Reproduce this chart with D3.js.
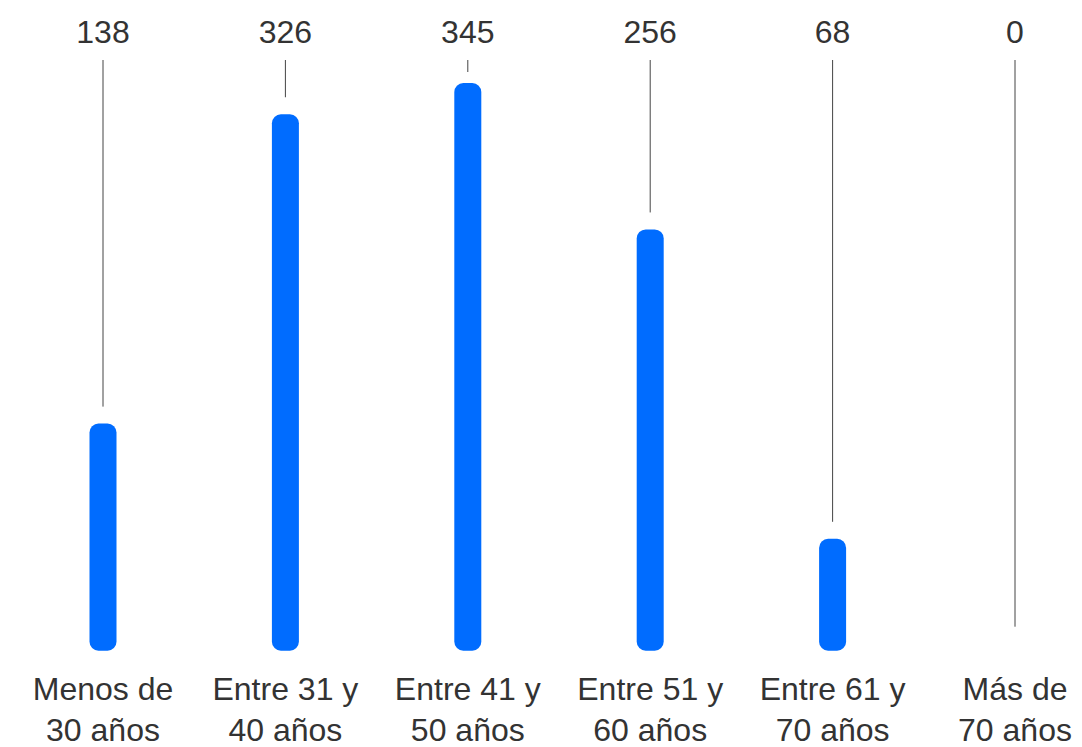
<!DOCTYPE html>
<html>
<head>
<meta charset="utf-8">
<script src="https://cdn.jsdelivr.net/npm/d3@7"></script>
<style>
  html, body { margin: 0; padding: 0; background: #fff; }
  svg { display: block; }
</style>
</head>
<body>
<svg id="chart" width="1082" height="747"></svg>
<script>
// Age groups (two text lines each) and counts
const categoryLine1 = ["Menos de", "Entre 31 y", "Entre 41 y", "Entre 51 y", "Entre 61 y", "Más de"];
const categoryLine2 = ["30 años", "40 años", "50 años", "60 años", "70 años", "70 años"];
const values = [138, 326, 345, 256, 68, 0];

const svg = d3.select("#chart");
const font = "'Liberation Sans', Arial, Helvetica, sans-serif";
const textColor = "#333333";
const barColor = "#006cff";

const ids = d3.range(values.length);
const x = d3.scalePoint().domain(ids).range([103, 1015]);
const y = d3.scaleLinear().domain([0, 345]).range([650.7, 83]);

const barWidth = 27;
const leaderTop = 60;
const leaderGap = 17;

// Leader lines from value label down toward bar top
svg.append("g").selectAll("line")
  .data(ids)
  .join("line")
  .attr("x1", i => x(i)).attr("x2", i => x(i))
  .attr("y1", leaderTop)
  .attr("y2", i => Math.max(leaderTop + 12, y(values[i]) - leaderGap - (values[i] === 0 ? 7 : 0)))
  .attr("stroke", "#444")
  .attr("stroke-width", 1);

// Rounded bars
svg.append("g").selectAll("rect")
  .data(ids.filter(i => values[i] > 0))
  .join("rect")
  .attr("x", i => x(i) - barWidth / 2)
  .attr("width", barWidth)
  .attr("y", i => y(values[i]))
  .attr("height", i => y(0) - y(values[i]))
  .attr("rx", 9).attr("ry", 9)
  .attr("fill", barColor);

// Value labels
svg.append("g").selectAll("text")
  .data(ids)
  .join("text")
  .attr("x", i => x(i))
  .attr("y", 43)
  .attr("text-anchor", "middle")
  .attr("font-family", font)
  .attr("font-size", 32)
  .attr("fill", textColor)
  .text(i => values[i]);

// Category labels
const cat = svg.append("g").selectAll("text")
  .data(ids)
  .join("text")
  .attr("text-anchor", "middle")
  .attr("font-family", font)
  .attr("font-size", 32)
  .attr("fill", textColor);
cat.append("tspan").attr("x", i => x(i)).attr("y", 700).text(i => categoryLine1[i]);
cat.append("tspan").attr("x", i => x(i)).attr("y", 741).text(i => categoryLine2[i]);
</script>
</body>
</html>
